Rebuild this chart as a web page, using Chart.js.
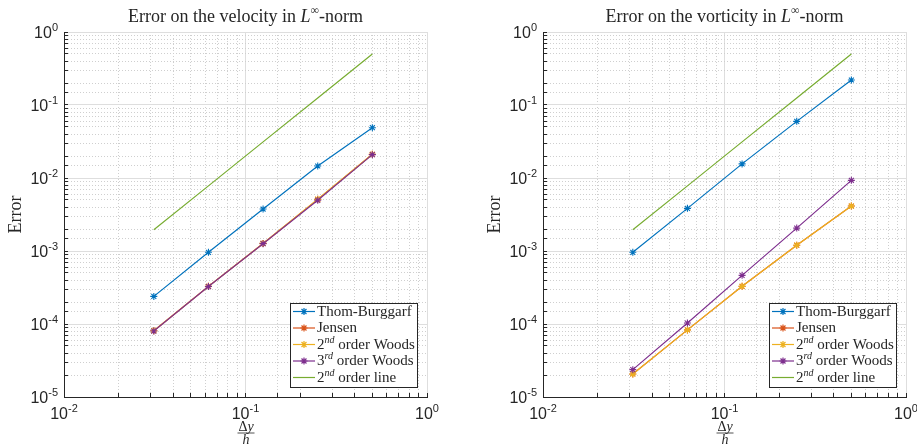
<!DOCTYPE html>
<html>
<head>
<meta charset="utf-8">
<script src="https://cdn.jsdelivr.net/npm/chart.js@4/dist/chart.umd.min.js"></script>
<style>
  body { margin: 0; background: #fff; }
  canvas { position: absolute; top: 0; }
</style>
</head>
<body>
<canvas id="velocityChart" width="460" height="445" style="left:0"></canvas>
<canvas id="vorticityChart" width="457" height="445" style="left:460px"></canvas>
<script>
// grid spacings dy/h
const stepSizes = [0.03125, 0.0625, 0.125, 0.25, 0.5];

// velocity errors
const velThom = [2.39e-4, 9.6e-4, 3.76e-3, 1.46e-2, 4.89e-2];
const velJensen = [8.1e-5, 3.28e-4, 1.27e-3, 5.1e-3, 2.11e-2];
const velWoods2 = [8.1e-5, 3.28e-4, 1.27e-3, 5.12e-3, 2.11e-2];
const velWoods3 = [8.0e-5, 3.26e-4, 1.26e-3, 4.95e-3, 2.09e-2];

// vorticity errors
const vortThom = [9.6e-4, 3.84e-3, 1.56e-2, 5.97e-2, 2.2e-1];
const vortJensen = [2.07e-5, 8.3e-5, 3.28e-4, 1.2e-3, 4.13e-3];
const vortWoods2 = [2.07e-5, 8.3e-5, 3.28e-4, 1.2e-3, 4.13e-3];
const vortWoods3 = [2.37e-5, 1.03e-4, 4.64e-4, 2.06e-3, 9.29e-3];

// reference slope
const orderLine = [0.00195, 0.0078, 0.03125, 0.125, 0.5];

const xRange = [0.01, 1];
const yRange = [1e-5, 1];

const seriesNames = [
  ['Thom-Burggarf'],
  ['Jensen'],
  ['2', 'nd', ' order Woods'],
  ['3', 'rd', ' order Woods'],
  ['2', 'nd', ' order line']
];
const seriesColors = ['#0072BD', '#D95319', '#EDB120', '#7E2F8E', '#77AC30'];

const SERIF = '"Liberation Serif", "DejaVu Serif", serif';
const SANS = '"Liberation Sans", Arial, sans-serif';
const AXIS = '#262626';

function isDecade(v) {
  const l = Math.log10(v);
  return Math.abs(l - Math.round(l)) < 1e-9;
}

function toPoints(values) {
  return stepSizes.map((x, i) => ({ x: x, y: values[i] }));
}

// draws a run of text pieces; piece = [text, font, dy]
function drawPieces(ctx, pieces, x, y, align) {
  let total = 0;
  pieces.forEach(p => { ctx.font = p[1]; total += ctx.measureText(p[0]).width; });
  let cx = align === 'center' ? x - total / 2 : x;
  ctx.textAlign = 'left';
  ctx.textBaseline = 'middle';
  pieces.forEach(p => {
    ctx.font = p[1];
    ctx.fillText(p[0], cx, y + (p[2] || 0));
    cx += ctx.measureText(p[0]).width;
  });
}

function nameToPieces(name) {
  if (name.length === 1) return [[name[0], '15px ' + SERIF]];
  return [[name[0], '15px ' + SERIF], [name[1], 'italic 10px ' + SERIF, -5], [name[2], '15px ' + SERIF]];
}

const decorations = {
  id: 'decorations',
  afterDraw(chart, args, opts) {
    const ctx = chart.ctx;
    const a = chart.chartArea;
    const xs = chart.scales.x;
    const ys = chart.scales.y;
    ctx.save();
    ctx.fillStyle = AXIS;

    // y tick labels 10^n
    ys.ticks.forEach(t => {
      if (!isDecade(t.value)) return;
      const e = String(Math.round(Math.log10(t.value)));
      const y = ys.getPixelForValue(t.value);
      ctx.font = '11px ' + SANS;
      const ew = ctx.measureText(e).width;
      ctx.font = '16px ' + SANS;
      const bw = ctx.measureText('10').width;
      const right = a.left - 5;
      drawPieces(ctx, [['10', '16px ' + SANS, 1.5], [e, '11px ' + SANS, -4.5]], right - ew - bw - 1, y, 'left');
    });

    // x tick labels 10^n
    xs.ticks.forEach(t => {
      if (!isDecade(t.value)) return;
      const e = String(Math.round(Math.log10(t.value)));
      const x = xs.getPixelForValue(t.value);
      drawPieces(ctx, [['10', '16px ' + SANS, 0], [e, '11px ' + SANS, -5.5]], x, a.bottom + 17.5, 'center');
    });

    // title
    const xc = (a.left + a.right) / 2;
    drawPieces(ctx, [
      [opts.title, '18px ' + SERIF],
      ['L', 'italic 18px ' + SERIF],
      ['\u221E', '12px ' + SERIF, -6],
      ['-norm', '18px ' + SERIF]
    ], xc, 17, 'center');

    // y axis label
    ctx.save();
    ctx.translate(a.left - 48, (a.top + a.bottom) / 2);
    ctx.rotate(-Math.PI / 2);
    ctx.font = '18px ' + SERIF;
    ctx.textAlign = 'center';
    ctx.textBaseline = 'middle';
    ctx.fillText('Error', 0, 0);
    ctx.restore();

    // x axis label: fraction dy / h
    drawPieces(ctx, [['\u0394', '14px ' + SERIF], ['y', 'italic 14px ' + SERIF]], xc + 0.5, a.bottom + 30.5, 'center');
    ctx.strokeStyle = AXIS;
    ctx.lineWidth = 0.8;
    ctx.beginPath();
    ctx.moveTo(xc - 8, a.bottom + 36);
    ctx.lineTo(xc + 9, a.bottom + 36);
    ctx.stroke();
    drawPieces(ctx, [['h', 'italic 14px ' + SERIF]], xc + 0.5, a.bottom + 43, 'center');

    // legend box
    const bw = 127, bh = 84;
    const bx = a.right - 10 - bw, by = a.bottom - 10 - bh;
    ctx.fillStyle = '#fff';
    ctx.fillRect(bx, by, bw, bh);
    ctx.strokeStyle = AXIS;
    ctx.lineWidth = 1;
    ctx.strokeRect(bx + 0.5, by + 0.5, bw, bh);
    const rows = [8.5, 25, 41.5, 58, 74.5];
    chart.data.datasets.forEach((ds, i) => {
      const y = by + rows[i];
      ctx.strokeStyle = ds.borderColor;
      ctx.lineWidth = 1.2;
      ctx.beginPath();
      ctx.moveTo(bx + 3, y);
      ctx.lineTo(bx + 25, y);
      ctx.stroke();
      if (ds.pointRadius > 0) {
        Chart.helpers.drawPoint(ctx, { pointStyle: 'star', radius: 3.5, rotation: 0, borderWidth: 1 }, bx + 14, y);
      }
      ctx.fillStyle = AXIS;
      drawPieces(ctx, nameToPieces(seriesNames[i]), bx + 27, y + 0.5, 'left');
    });
    ctx.restore();
  }
};

function logAxis(range, size, key) {
  return {
    type: 'logarithmic',
    min: range[0],
    max: range[1],
    ticks: { display: false, autoSkip: false },
    grid: {
      color: c => (c.tick && isDecade(c.tick.value)) ? '#dedede' : '#cfcfcf',
      lineWidth: 1,
      drawTicks: true,
      tickLength: -4,
      tickColor: AXIS,
      tickWidth: 1
    },
    border: {
      display: true,
      color: AXIS,
      width: 1,
      dash: c => (c.tick && !isDecade(c.tick.value)) ? [1, 2] : []
    },
    afterFit: scale => { scale[key] = size; }
  };
}

function makeChart(id, title, values, padLeft, padRight) {
  const datasets = values.map((vals, i) => ({
    label: seriesNames[i].join(''),
    data: toPoints(vals),
    borderColor: seriesColors[i],
    backgroundColor: seriesColors[i],
    borderWidth: 1.2,
    pointStyle: 'star',
    pointRadius: i === 4 ? 0 : 3.5,
    pointBorderWidth: 1.1,
    pointBorderColor: seriesColors[i],
    order: values.length - 1 - i
  }));

  return new Chart(document.getElementById(id), {
    type: 'line',
    data: { datasets: datasets },
    options: {
      responsive: false,
      animation: false,
      layout: { padding: { left: padLeft, right: padRight, top: 32, bottom: 0 } },
      scales: {
        x: logAxis(xRange, 48, 'height'),
        y: logAxis(yRange, 64, 'width')
      },
      plugins: {
        legend: { display: false },
        tooltip: { enabled: false },
        decorations: { title: title }
      }
    },
    plugins: [decorations]
  });
}

makeChart('velocityChart', 'Error on the velocity in ',
  [velThom, velJensen, velWoods2, velWoods3, orderLine], 0, 33);
makeChart('vorticityChart', 'Error on the vorticity in ',
  [vortThom, vortJensen, vortWoods2, vortWoods3, orderLine], 19, 11);
</script>
</body>
</html>
